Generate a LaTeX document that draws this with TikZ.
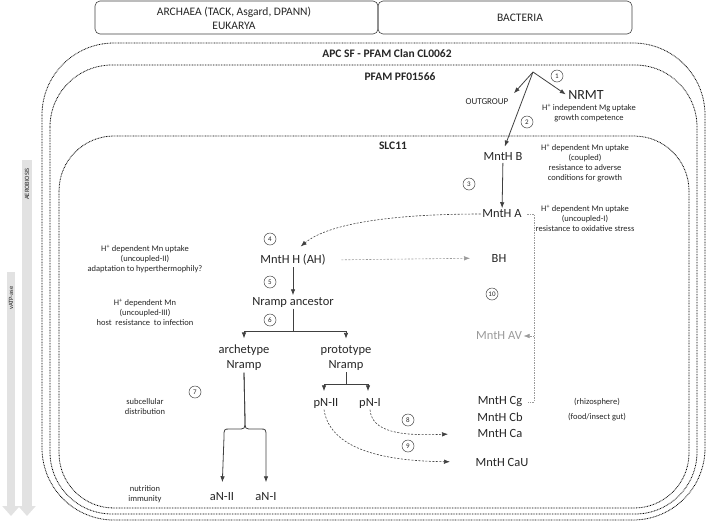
\documentclass[tikz,border=0pt]{standalone}
\usepackage{fontspec}
\setmainfont{Carlito}
\usetikzlibrary{arrows.meta,calc}
\definecolor{txtGray}{HTML}{262626}
\definecolor{lineGray}{HTML}{404040}
\definecolor{paleGray}{HTML}{9A9A9A}
\definecolor{barGray}{HTML}{E2E2E2}
\tikzset{
  taxon/.style={text=txtGray, font=\fontsize{12.5}{15}\selectfont, inner sep=1.5pt},
  notetext/.style={text=txtGray, font=\fontsize{8.5}{10}\selectfont, align=center, inner sep=1pt},
  stepnum/.style={circle, draw=lineGray, line width=0.5pt, inner sep=0pt, minimum size=12pt,
    font=\fontsize{7}{8}\selectfont, text=txtGray},
  clanbox/.style={draw=black, line width=0.8pt, dash pattern=on 0.8pt off 0.8pt},
  regiontitle/.style={text=txtGray, font=\bfseries\fontsize{11.5}{13}\selectfont},
  domainbox/.style={draw=lineGray, line width=0.6pt, rounded corners=5pt},
  evol/.style={-{Latex[length=6pt,width=4.5pt]}, draw=lineGray, line width=0.8pt},
  devol/.style={evol, line width=0.6pt, dash pattern=on 2pt off 1.5pt},
  gevol/.style={devol, draw=paleGray},
  trend/.style={draw=barGray, -{Triangle[length=10pt,width=17pt]}},
}
\begin{document}
\begin{tikzpicture}[x=1pt,y=-1pt]
  \useasboundingbox (0,0) rectangle (708,523);
  % domains
  \draw[domainbox] (95,1) rectangle (378,34);
  \draw[domainbox] (378,1) rectangle (632,34);
  \node[text=txtGray, align=center, font=\fontsize{11.5}{14}\selectfont] (arch) at (234,18)
    {ARCHAEA (TACK, Asgard, DPANN)\\EUKARYA};
  \node[text=txtGray, font=\fontsize{11.5}{14}\selectfont] (bact) at (520,18) {BACTERIA};
  % nested families
  \draw[clanbox, rounded corners=72pt] (42,43) rectangle (705,520);
  \draw[clanbox, rounded corners=62pt] (50,65) rectangle (697,514);
  \draw[clanbox, rounded corners=55pt] (59,136) rectangle (689,508);
  \node[regiontitle] (apc) at (387,54) {APC SF - PFAM Clan CL0062};
  \node[regiontitle] (pfam) at (400,77) {PFAM PF01566};
  \node[regiontitle] (slc) at (393,146) {SLC11};
  % trends
  \draw[trend, line width=8pt] (11,272) -- (11,516);
  \draw[trend, line width=10pt] (27,160) -- (27,516);
  \node[rotate=90, text=txtGray, font=\fontsize{6.5}{7}\selectfont] (vatp) at (11,298) {vATP-ase};
  \node[rotate=90, text=txtGray, font=\fontsize{6.5}{7}\selectfont] (aero) at (27,184) {AEROBIOSIS};

  % bacterial side
  \coordinate (root) at (533,72);
  \node[text=txtGray, font=\fontsize{9}{11}\selectfont] (outg) at (487,102) {OUTGROUP};
  \node[taxon, font=\fontsize{14}{16}\selectfont] (nrmt) at (586,95) {NRMT};
  \node[notetext] (nrmtN) at (589,113) {H\textsuperscript{+} independent Mg uptake\\growth competence};
  \node[taxon] (mntB) at (503,157) {MntH B};
  \node[notetext] (mntBN) at (585,163)
    {H\textsuperscript{+} dependent Mn uptake\\(coupled)\\resistance to adverse\\conditions for growth};
  \node[taxon] (mntA) at (502,214) {MntH A};
  \node[notetext] (mntAN) at (585,218)
    {H\textsuperscript{+} dependent Mn uptake\\(uncoupled-I)\\resistance to oxidative stress};
  \node[taxon] (bh) at (499,258) {BH};
  \node[taxon, text=paleGray] (av) at (499,336) {MntH AV};
  \node[taxon] (cg) at (500,402) {MntH Cg};
  \node[taxon] (cb) at (500,417) {MntH Cb};
  \node[taxon] (ca) at (500,433) {MntH Ca};
  \node[taxon] (cau) at (502,462) {MntH CaU};
  \node[notetext] (rhizo) at (597,402) {(rhizosphere)};
  \node[notetext] (gut) at (597,417) {(food/insect gut)};

  % archaeal / eukaryal side
  \node[taxon] (mntH) at (293,260) {MntH H (AH)};
  \node[taxon] (anc) at (293,302) {Nramp ancestor};
  \node[taxon, align=center] (archN) at (244,358) {archetype\\Nramp};
  \node[taxon, align=center] (protoN) at (346,358) {prototype\\Nramp};
  \node[taxon] (pn2) at (326,403) {pN-II};
  \node[taxon] (pn1) at (370,403) {pN-I};
  \node[taxon] (an2) at (222,497) {aN-II};
  \node[taxon] (an1) at (266,497) {aN-I};
  \node[notetext] (mntHN) at (145,259)
    {H\textsuperscript{+} dependent Mn uptake\\(uncoupled-II)\\adaptation to hyperthermophily?};
  \node[notetext] (ancN) at (145,312)
    {H\textsuperscript{+} dependent Mn\\(uncoupled-III)\\host\ \ resistance\ \ to infection};
  \node[notetext] (subN) at (145,407) {subcellular\\distribution};
  \node[notetext] (nutN) at (145,494) {nutrition\\immunity};

  % steps
  \node[stepnum] (s1) at (557,76) {1};
  \node[stepnum] (s2) at (527,122) {2};
  \node[stepnum] (s3) at (469,184) {3};
  \node[stepnum] (s4) at (270,239) {4};
  \node[stepnum] (s5) at (270,282) {5};
  \node[stepnum] (s6) at (270,320) {6};
  \node[stepnum] (s7) at (195,392) {7};
  \node[stepnum] (s8) at (408,420) {8};
  \node[stepnum] (s9) at (408,446) {9};
  \node[stepnum] (s10) at (492,294) {10};

  % connectors
  \draw[evol, shorten >=3pt] (root) -- (outg.north east);
  \draw[evol, shorten >=1pt] (root) -- (nrmt.west);
  \draw[evol, shorten >=5pt] (root) -- (mntB.north);
  \draw[evol] (mntB) -- (mntA);
  \draw[devol, shorten >=10pt] (mntA.west) .. controls (400,214) and (330,222) .. (mntH.north);
  \draw[gevol, shorten <=14pt, shorten >=20pt] (mntH.east) -- (bh.west);
  \coordinate (brk) at (534,206);
  \draw[paleGray, line width=0.5pt, dash pattern=on 1.5pt off 1pt]
    ([xshift=4pt]mntA.east) -- (mntA.east -| brk) -- (cg.east -| brk) -- ([xshift=4pt]cg.east);
  \draw[gevol, dash pattern=on 1.5pt off 1pt, line width=0.5pt] (av.east -| brk) -- (av.east);
  \draw[evol] (mntH) -- (anc);
  % split 6
  \coordinate (fk6) at (293,331);
  \draw[lineGray, line width=0.8pt] (anc.south) -- (fk6);
  \draw[evol, shorten >=5pt] (fk6) -| (archN.north);
  \draw[evol, shorten >=5pt] (fk6) -| (protoN.north);
  % split 7
  \draw[evol, shorten >=9pt] (archN.south) -- (245,421) .. controls (245,429) .. (237,429)
    -- (230,429) .. controls (224,429) .. (224,437) -- (an2.north);
  \draw[evol, shorten >=9pt] (archN.south) -- (245,421) .. controls (245,429) .. (253,429)
    -- (260,429) .. controls (266,429) .. (266,437) -- (an1.north);
  % prototype split
  \coordinate (fkp) at (346,384);
  \draw[lineGray, line width=0.8pt] (protoN.south) -- (fkp);
  \draw[evol, shorten >=5pt] (fkp) -| ([xshift=-2pt]pn2.north);
  \draw[evol, shorten >=5pt] (fkp) -| ([xshift=-2pt]pn1.north);
  % steps 8 and 9
  \draw[devol, shorten >=28pt] (pn1.south) .. controls (372,432) and (400,436) .. (ca.west);
  \draw[devol, shorten >=24pt] ([xshift=-2pt]pn2.south) .. controls (330,448) and (380,461) .. (cau.west);
\end{tikzpicture}
\end{document}
